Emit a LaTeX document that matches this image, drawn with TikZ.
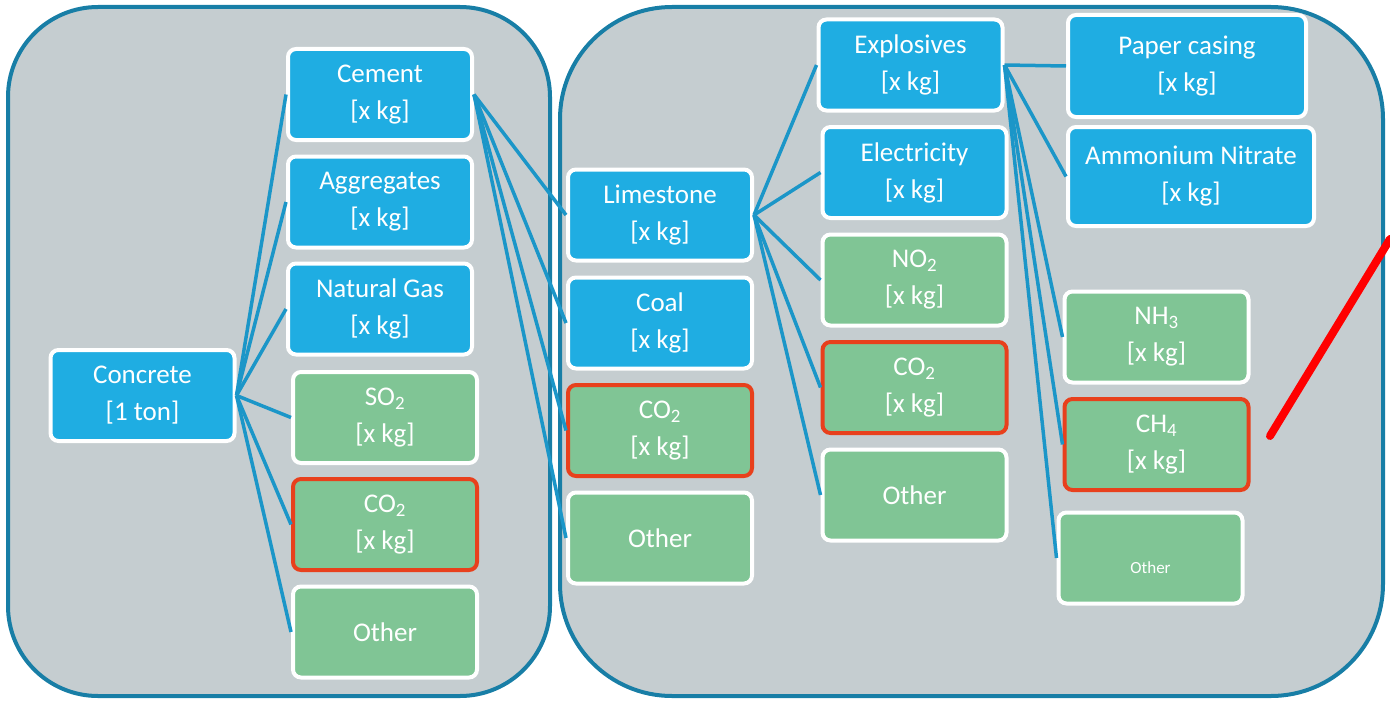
\documentclass[tikz,border=0pt]{standalone}
\usepackage{fontspec}
\setmainfont{Carlito}
\definecolor{boxblue}{RGB}{31,173,226}
\definecolor{boxgreen}{RGB}{128,197,149}
\definecolor{hotred}{RGB}{232,64,28}
\definecolor{panelgray}{RGB}{197,205,208}
\definecolor{panelrim}{RGB}{24,126,166}
\definecolor{linkblue}{RGB}{27,150,200}
\begin{document}
\begin{tikzpicture}[x=1pt, y=-1pt,
	stage/.style={draw=white, line width=4pt, rounded corners=8pt, text=white, align=center,
		minimum width=184pt, minimum height=91pt, inner sep=0pt,
		font=\fontsize{27}{37}\selectfont},
	inputbox/.style={stage, fill=boxblue},
	emitbox/.style={stage, fill=boxgreen},
	hotbox/.style={emitbox, draw=hotred},
	link/.style={draw=linkblue, line width=3.5pt},
	panel/.style={draw=panelrim, fill=panelgray, line width=4pt}]
	\useasboundingbox (0, 0) rectangle (1390, 701);

	% the two stages
	\draw[panel, rounded corners=90pt] (8, 7) rectangle (550, 696);
	\draw[panel, rounded corners=112pt] (560, 7) rectangle (1383, 696);

	% concrete and what goes into it
	\node[inputbox] (concrete) at (142.5, 395.5) {Concrete\\{[1 ton]}};
	\node[inputbox] (cement) at (380, 94.5) {Cement\\{[x kg]}};
	\node[inputbox] (aggr) at (380, 202) {Aggregates\\{[x kg]}};
	\node[inputbox] (natgas) at (380, 309) {Natural Gas\\{[x kg]}};
	\node[emitbox] (so2a) at (385, 417.5) {SO\textsubscript{2}\\{[x kg]}};
	\node[hotbox] (co2a) at (385, 524.5) {CO\textsubscript{2}\\{[x kg]}};
	\node[emitbox] (othera) at (385, 632) {Other};

	% cement
	\node[inputbox] (lime) at (660, 215) {Limestone\\{[x kg]}};
	\node[inputbox] (coal) at (660, 323) {Coal\\{[x kg]}};
	\node[hotbox] (co2b) at (660, 430.5) {CO\textsubscript{2}\\{[x kg]}};
	\node[emitbox] (otherb) at (660, 538) {Other};

	% limestone
	\node[inputbox] (expl) at (910.5, 65) {Explosives\\{[x kg]}};
	\node[inputbox] (elec) at (914.5, 172.5) {Electricity\\{[x kg]}};
	\node[emitbox] (no2) at (914.5, 280) {NO\textsubscript{2}\\{[x kg]}};
	\node[hotbox] (co2c) at (914.5, 387.5) {CO\textsubscript{2}\\{[x kg]}};
	\node[emitbox] (otherc) at (914.5, 495) {Other};

	% explosives
	\node[inputbox, minimum width=238pt, minimum height=102pt] (paper) at (1187, 66) {Paper casing\\{[x kg]}};
	\node[inputbox, minimum width=246pt, minimum height=99pt] (ammon) at (1191, 176.5) {Ammonium Nitrate\\{[x kg]}};
	\node[emitbox] (nh3) at (1156.5, 337) {NH\textsubscript{3}\\{[x kg]}};
	\node[hotbox] (ch4) at (1156.5, 444.5) {CH\textsubscript{4}\\{[x kg]}};
	\node[emitbox, font=\fontsize{17}{20}\selectfont] (otherd) at (1150.5, 558) {\raisebox{-15pt}[0pt][0pt]{Other}};

	\draw[link] (concrete.east) -- (cement.west);
	\draw[link] (concrete.east) -- (aggr.west);
	\draw[link] (concrete.east) -- (natgas.west);
	\draw[link] (concrete.east) -- (so2a.west);
	\draw[link] (concrete.east) -- (co2a.west);
	\draw[link] (concrete.east) -- (othera.west);

	\draw[link] (cement.east) -- (lime.west);
	\draw[link] (cement.east) -- (coal.west);
	\draw[link] (cement.east) -- (co2b.west);
	\draw[link] (cement.east) -- (otherb.west);

	\draw[link] (lime.east) -- (expl.west);
	\draw[link] (lime.east) -- (elec.west);
	\draw[link] (lime.east) -- (no2.west);
	\draw[link] (lime.east) -- (co2c.west);
	\draw[link] (lime.east) -- (otherc.west);

	\draw[link] (expl.east) -- (paper.west);
	\draw[link] (expl.east) -- (ammon.west);
	\draw[link] (expl.east) -- (nh3.west);
	\draw[link] (expl.east) -- (ch4.west);
	\draw[link] (expl.east) -- (otherd.west);

	% pointer
	\coordinate (tip) at (1270, 436);
	\coordinate (tail) at (1390, 239);
	\draw[red, line width=8pt, line cap=round] (tip) -- (tail);
\end{tikzpicture}
\end{document}
